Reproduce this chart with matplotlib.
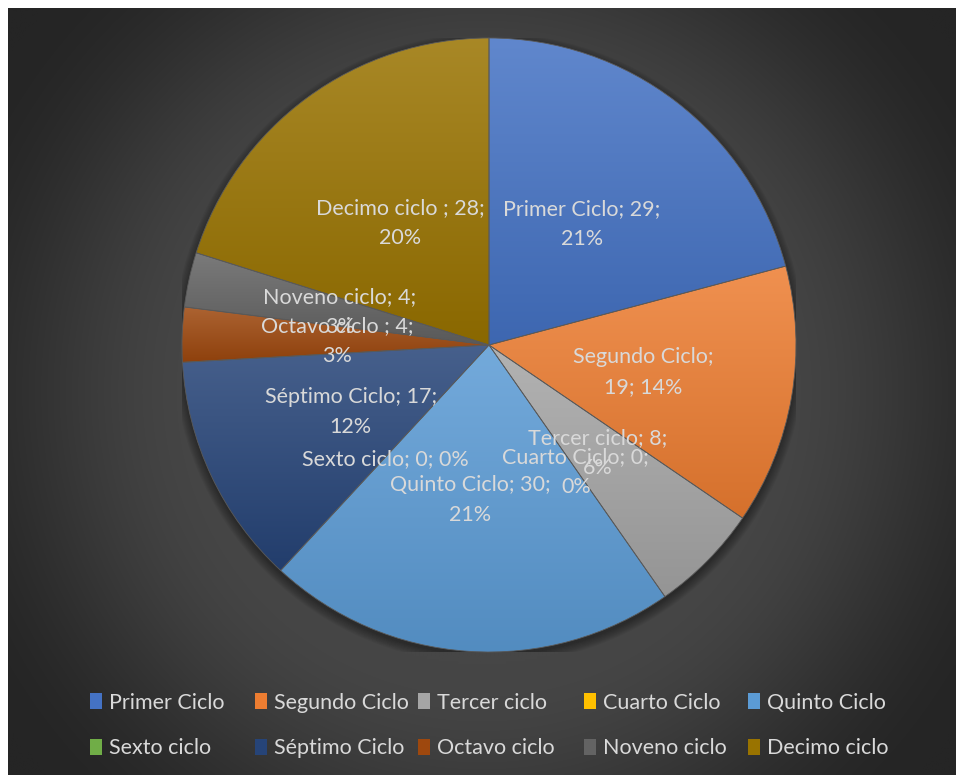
import numpy as np
import matplotlib
matplotlib.use("Agg")
import matplotlib.pyplot as plt
from matplotlib.patches import Patch, Circle
from matplotlib.colors import to_rgb

# data
categories = ["Primer Ciclo", "Segundo Ciclo", "Tercer ciclo", "Cuarto Ciclo", "Quinto Ciclo",
              "Sexto ciclo", "Séptimo Ciclo", "Octavo ciclo ", "Noveno ciclo", "Decimo ciclo "]
values = [29, 19, 8, 0, 30, 0, 17, 4, 4, 28]
percent_labels = ["21%", "14%", "6%", "0%", "21%", "0%", "12%", "3%", "3%", "20%"]

colors = ["#4472C4", "#ED7D31", "#A5A5A5", "#FFC000", "#5B9BD5",
          "#70AD47", "#264478", "#9E480E", "#636363", "#997300"]

# where each data label wraps (after how many parts) and where Excel put it (pie units)
label_breaks = [2, 1, 2, 2, 2, 3, 2, 2, 2, 2]
label_pos = [(0.303, 0.394), (0.502, -0.088), (0.355, -0.352), (0.283, -0.414), (-0.062, -0.505),
             (-0.336, -0.371), (-0.450, -0.218), (-0.495, 0.013), (-0.485, 0.107), (-0.290, 0.397)]

FONT = "Lato"
TXT = "#D9D9D9"
FS = 15.5
plt.rcParams["font.family"] = [FONT, "DejaVu Sans"]

W, H = 956, 775
fig = plt.figure(figsize=(W / 100, H / 100), dpi=100)
fig.patch.set_facecolor("white")

# dark radial background
bg = fig.add_axes([8 / W, 0, 1 - 8 / W, 1 - 8 / H])
bw, bh = W - 8, H - 8
yy, xx = np.mgrid[0:bh:300j, 0:bw:300j]
r = np.hypot(xx - bw * 0.5, yy - bh * 0.5) / np.hypot(bw * 0.5, bh * 0.5)
t = np.clip((r - 0.45) / 0.5, 0, 1)
t = (t * t * (3 - 2 * t))[..., None]
c0, c1 = np.array(to_rgb("#464646")), np.array(to_rgb("#252525"))
bg.imshow(c0 * (1 - t) + c1 * t, extent=[0, 1, 0, 1], aspect="auto", interpolation="bilinear")
bg.axis("off")

# pie axes
cx, cy, R = 489, 345, 307
ax = fig.add_axes([(cx - R) / W, (H - cy - R) / H, 2 * R / W, 2 * R / H])

# soft shadow under the pie
for i in range(8):
    ax.add_patch(Circle((0, -0.012), 1 + 0.004 * i, color="black", alpha=0.05, lw=0, zorder=0))

wedges, _ = ax.pie(values, colors=colors, startangle=90, counterclock=False, radius=1,
                   wedgeprops=dict(edgecolor="#5a5a5a", linewidth=0.6, zorder=1))

# vertical gradient on each slice (lighter at top)
for w, c, v in zip(wedges, colors, values):
    if v == 0:
        continue
    verts = w.get_path().vertices
    x0, y0 = verts.min(axis=0)
    x1, y1 = verts.max(axis=0)
    base = np.array(to_rgb(c))
    top = base + (1 - base) * 0.15
    bot = base * 0.9
    s = np.linspace(0, 1, 256)[:, None, None]
    grad = top * (1 - s) + bot * s
    im = ax.imshow(grad, extent=[x0, x1, y0, y1], aspect="auto", interpolation="bilinear", zorder=2)
    im.set_clip_path(w)
    w.set_facecolor("none")
    w.set_zorder(3)

# data labels
for i, (name, v, p) in enumerate(zip(categories, values, percent_labels)):
    parts = [name, str(v), p]
    b = label_breaks[i]
    first = "; ".join(parts[:b])
    rest = "; ".join(parts[b:])
    if rest:
        label = first + ";\n" + rest
    else:
        label = first
    ax.text(label_pos[i][0], label_pos[i][1], label, ha="center", va="center",
            color=TXT, fontsize=FS, linespacing=1.6, zorder=5)

ax.set_xlim(-1, 1)
ax.set_ylim(-1, 1)
ax.set_aspect("equal")
ax.axis("off")

# legend: five equal columns, two rows
col_x = [90, 255, 418, 584, 748]
for j, x in enumerate(col_x):
    idx = [j, j + 5]
    handles = [Patch(facecolor=colors[k], edgecolor="none") for k in idx]
    labels = [categories[k].strip() for k in idx]
    fig.legend(handles, labels, loc="center left", bbox_to_anchor=(x / W, 1 - 725.5 / H),
               frameon=False, fontsize=FS, labelcolor=TXT, handlelength=0.55, handleheight=0.75,
               handletextpad=0.35, labelspacing=1.2, borderpad=0, borderaxespad=0)

fig.savefig("out.png", dpi=100, facecolor=fig.get_facecolor())
